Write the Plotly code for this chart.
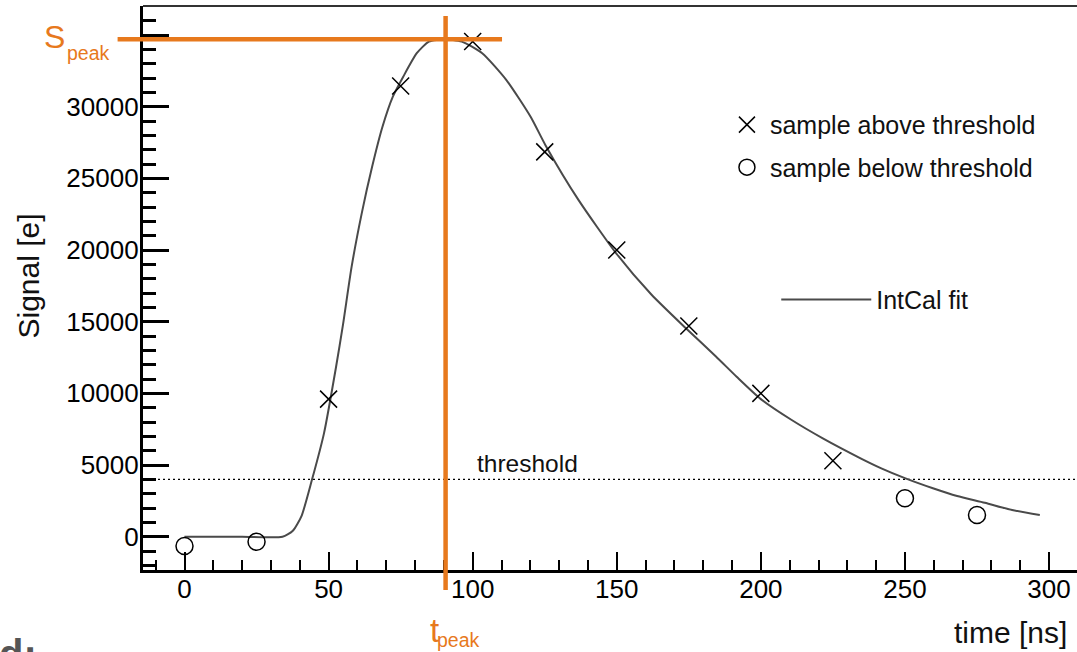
import plotly.graph_objects as go

# ---------------- data ----------------
t_above = [50, 75, 100, 125, 150, 175, 200, 225]
s_above = [9600, 31450, 34550, 26850, 20000, 14700, 10000, 5300]

t_below = [0, 25, 250, 275]
s_below = [-650, -350, 2680, 1510]

fit_t = [0, 20, 34, 37.6, 40.6, 44.2, 48.4, 52.6, 55, 58, 61.5, 65.1, 68.7, 72.3,
         75.9, 80.6, 84.8, 90.2, 96.2, 103.3, 111.7, 120.1, 125.3, 136.7, 149.8,
         162, 173.7, 184.5, 191.6, 200, 210.7, 221.5, 234.6, 241.8, 250.2, 259.7,
         268.1, 277.7, 287.2, 296.8]
fit_s = [0, 0, 0, 420, 1440, 3950, 7210, 11860, 14800, 18840, 22560, 25810, 28600, 30700,
         32090, 33730, 34540, 34700, 34540, 33730, 31860, 29300, 27300, 23500, 19770,
         16900, 14600, 12560, 11160, 9600, 8140, 6860, 5470, 4770, 4070, 3380,
         2840, 2370, 1860, 1510]

THRESHOLD = 4000
T_PEAK = 90.6
S_PEAK = 34700

x_ticks = [0, 50, 100, 150, 200, 250, 300]
y_ticks = [0, 5000, 10000, 15000, 20000, 25000, 30000, 35000]
y_ticklabels = ["0", "5000", "10000", "15000", "20000", "25000", "30000", ""]

X_RANGE = [-14.4, 309.7]
Y_RANGE = [-2323, 37026]

FONT = "Liberation Sans, Arial, Helvetica, sans-serif"
ORANGE = "#E7791D"

fig = go.Figure()

fig.add_trace(go.Scatter(
    x=fit_t, y=fit_s, mode="lines", name="IntCal fit",
    line=dict(color="#4a4a4a", width=2, shape="spline", smoothing=0.6),
    legend="legend2", legendgroup="fit"))

fig.add_trace(go.Scatter(
    x=t_above, y=s_above, mode="markers", name="sample above threshold",
    marker=dict(symbol="x-thin-open", size=17, color="black",
                line=dict(color="black", width=1.5)),
    legend="legend", legendgroup="above"))

fig.add_trace(go.Scatter(
    x=t_below, y=s_below, mode="markers", name="sample below threshold",
    marker=dict(symbol="circle-open", size=17, color="black",
                line=dict(color="black", width=1.5)),
    legend="legend", legendgroup="below"))

# threshold line
fig.add_shape(type="line", xref="paper", x0=0, x1=1, yref="y", y0=THRESHOLD, y1=THRESHOLD,
              line=dict(color="black", width=1.2, dash="2px,3px"), layer="below")

# top frame line
fig.add_shape(type="line", xref="paper", x0=0, x1=1, yref="paper", y0=1, y1=1,
              line=dict(color="#333333", width=2))

# peak markers (orange)
fig.add_shape(type="line", xref="x", x0=T_PEAK, x1=T_PEAK, yref="paper", y0=-0.0355, y1=0.9823,
              line=dict(color=ORANGE, width=4.5))
fig.add_shape(type="line", xref="paper", x0=-0.0272, x1=0.3844, yref="y", y0=S_PEAK, y1=S_PEAK,
              line=dict(color=ORANGE, width=4.5))

axis_common = dict(showgrid=False, zeroline=False, showline=True, linecolor="black",
                   ticks="inside", tickcolor="black",
                   tickfont=dict(family=FONT, size=26, color="black"))

fig.update_xaxes(range=X_RANGE, tickvals=x_ticks, ticklen=18, tickwidth=2, linewidth=3,
                 ticklabelstandoff=-6,
                 minor=dict(dtick=10, tick0=0, ticks="inside", ticklen=10, tickwidth=2, tickcolor="black"),
                 **axis_common)
fig.update_yaxes(range=Y_RANGE, tickvals=y_ticks, ticktext=y_ticklabels, ticklen=26, tickwidth=2.5,
                 linewidth=3.3, ticklabelstandoff=-4,
                 minor=dict(dtick=1000, tick0=0, ticks="inside", ticklen=13, tickwidth=2.5, tickcolor="black"),
                 **axis_common)


def px_x(px):
    return (px - 143) / 934.0


def px_y(px):
    return (570 - px) / 564.0


ann_font = dict(family=FONT, color="#111111")
fig.add_annotation(text="Signal [e]", xref="paper", yref="paper", x=px_x(27.5), y=px_y(276),
                   xanchor="center", yanchor="middle",
                   textangle=-90, showarrow=False, font=dict(size=30, **ann_font))
fig.add_annotation(text="time [ns]", xref="paper", yref="paper", x=px_x(1069), y=px_y(632),
                   xanchor="right", yanchor="middle", showarrow=False, font=dict(size=30, **ann_font))
fig.add_annotation(text="threshold", xref="x", yref="y", x=100.9, y=THRESHOLD,
                   xanchor="left", yanchor="bottom", showarrow=False, font=dict(size=24.5, **ann_font))
# S_peak label
fig.add_annotation(text="S", xref="paper", yref="paper", x=px_x(42), y=px_y(36.8),
                   xanchor="left", yanchor="middle", showarrow=False,
                   font=dict(family=FONT, size=32, color=ORANGE))
fig.add_annotation(text="peak", xref="paper", yref="paper", x=px_x(65), y=px_y(53.4),
                   xanchor="left", yanchor="middle", showarrow=False,
                   font=dict(family=FONT, size=19.5, color=ORANGE))
# t_peak label
fig.add_annotation(text="t", xref="paper", yref="paper", x=px_x(428), y=px_y(630.5),
                   xanchor="left", yanchor="middle", showarrow=False,
                   font=dict(family=FONT, size=33, color=ORANGE))
fig.add_annotation(text="peak", xref="paper", yref="paper", x=px_x(435), y=px_y(640),
                   xanchor="left", yanchor="middle", showarrow=False,
                   font=dict(family=FONT, size=19.5, color=ORANGE))
fig.add_annotation(text="<b>d:</b>", xref="paper", yref="paper", x=px_x(-3), y=px_y(630),
                   xanchor="left", yanchor="top", showarrow=False,
                   font=dict(family=FONT, size=40, color="#555555"))

fig.update_layout(
    width=1077, height=652,
    margin=dict(l=143, r=0, t=6, b=82),
    paper_bgcolor="white", plot_bgcolor="white",
    showlegend=True,
    legend=dict(x=0.622, y=0.83, xanchor="left", yanchor="top", bgcolor="rgba(0,0,0,0)",
                borderwidth=0, traceorder="grouped", tracegroupgap=7, itemwidth=36,
                font=dict(family=FONT, size=25, color="#111111")),
    legend2=dict(x=0.678, y=0.52, xanchor="left", yanchor="top", bgcolor="rgba(0,0,0,0)",
                 borderwidth=0, itemwidth=90,
                 font=dict(family=FONT, size=25, color="#111111")),
)

fig.write_html("out.html", config={"displayModeBar": False},
               post_script="document.body.style.margin='0px';")
